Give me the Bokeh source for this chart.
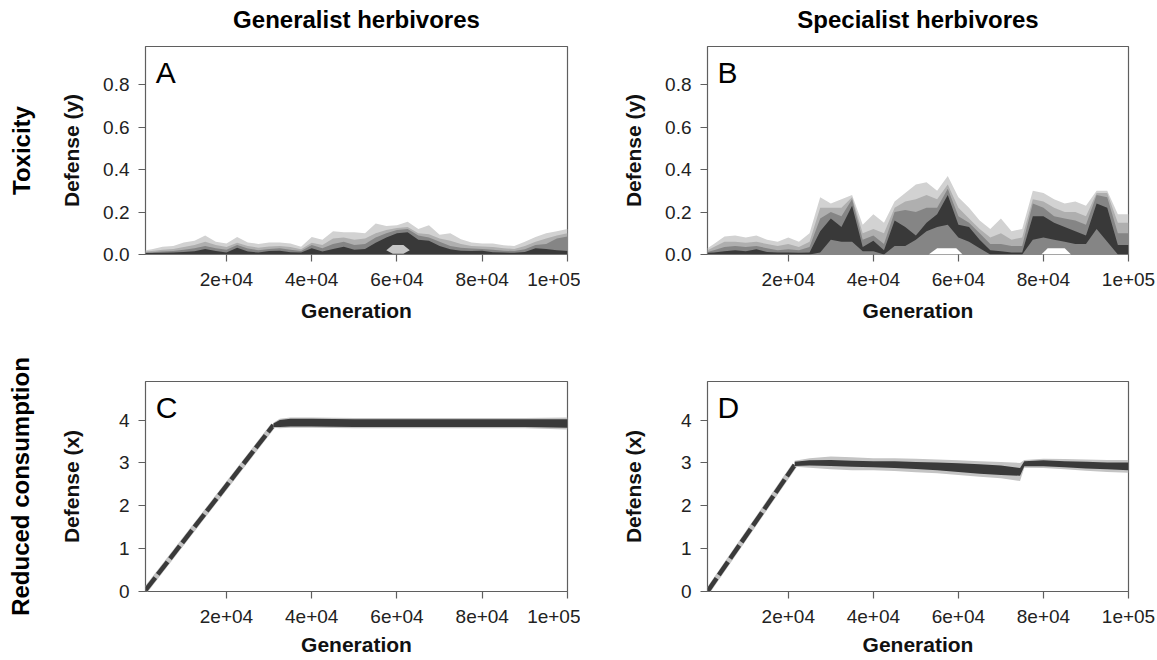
from bokeh.plotting import figure
from bokeh.layouts import column, row
from bokeh.models import Range1d, FixedTicker, Label, Title, NumeralTickFormatter
from bokeh.embed import file_html
from bokeh.resources import INLINE

# ---------------- data ----------------
col_titles = ["Generalist herbivores", "Specialist herbivores"]
row_titles = ["Toxicity", "Reduced consumption"]
panel_letters = ["A", "B", "C", "D"]
y_labels = ["Defense (y)", "Defense (y)", "Defense (x)", "Defense (x)"]

x_tick_values = [20000, 40000, 60000, 80000, 100000]
x_tick_labels = ["2e+04", "4e+04", "6e+04", "8e+04", "1e+05"]
y_ticks_tox = [0.0, 0.2, 0.4, 0.6, 0.8]
y_ticks_con = [0, 1, 2, 3, 4]

gen = [1000, 2500, 5000, 7500, 10000, 12500, 15000, 17500, 20000, 22500,
       25000, 27500, 30000, 32500, 35000, 37500, 40000, 42500, 45000, 47500,
       50000, 52500, 55000, 57500, 60000, 62500, 65000, 67500, 70000, 72500,
       75000, 77500, 80000, 82500, 85000, 87500, 90000, 92500, 95000, 97500,
       100000]

# Panel A: upper edges of the density contour levels (light -> dark)
A_L1 = [0.02, 0.025, 0.036, 0.04, 0.056, 0.065, 0.089, 0.06, 0.052, 0.082,
        0.056, 0.05, 0.056, 0.056, 0.052, 0.036, 0.082, 0.069, 0.11, 0.105,
        0.105, 0.1, 0.146, 0.134, 0.138, 0.154, 0.12, 0.138, 0.093, 0.1,
        0.072, 0.056, 0.052, 0.052, 0.044, 0.04, 0.06, 0.082, 0.1, 0.11, 0.12]
A_L2 = [0.014, 0.016, 0.022, 0.026, 0.035, 0.045, 0.06, 0.045, 0.035, 0.055,
        0.04, 0.032, 0.038, 0.04, 0.035, 0.025, 0.055, 0.045, 0.075, 0.08,
        0.07, 0.075, 0.1, 0.115, 0.125, 0.13, 0.1, 0.095, 0.075, 0.065,
        0.05, 0.04, 0.038, 0.035, 0.03, 0.026, 0.04, 0.06, 0.075, 0.09, 0.1]
A_L3 = [0.01, 0.011, 0.014, 0.016, 0.022, 0.03, 0.04, 0.03, 0.022, 0.045,
        0.028, 0.02, 0.026, 0.03, 0.022, 0.016, 0.045, 0.03, 0.05, 0.06,
        0.045, 0.05, 0.08, 0.1, 0.115, 0.12, 0.09, 0.08, 0.06, 0.04,
        0.032, 0.028, 0.026, 0.022, 0.018, 0.016, 0.025, 0.045, 0.05, 0.075, 0.085]
A_L4 = [0.007, 0.007, 0.008, 0.009, 0.012, 0.015, 0.026, 0.016, 0.01, 0.032,
        0.014, 0.009, 0.016, 0.018, 0.011, 0.009, 0.03, 0.014, 0.026, 0.036,
        0.022, 0.026, 0.055, 0.08, 0.1, 0.105, 0.07, 0.065, 0.04, 0.025,
        0.018, 0.016, 0.018, 0.011, 0.009, 0.008, 0.012, 0.03, 0.026, 0.02, 0.016]
A_hole_gen = [57500, 59000, 61500, 63000]
A_hole_lo = [0.02, 0.004, 0.004, 0.02]
A_hole_hi = [0.02, 0.045, 0.045, 0.02]

# Panel B
B_L1 = [0.03, 0.05, 0.085, 0.09, 0.08, 0.09, 0.07, 0.06, 0.08, 0.06,
        0.1, 0.27, 0.24, 0.26, 0.28, 0.14, 0.19, 0.15, 0.25, 0.29,
        0.33, 0.34, 0.3, 0.37, 0.27, 0.22, 0.16, 0.12, 0.17, 0.11,
        0.12, 0.3, 0.29, 0.26, 0.24, 0.25, 0.23, 0.3, 0.3, 0.19, 0.19]
B_L2 = [0.02, 0.035, 0.06, 0.06, 0.055, 0.06, 0.05, 0.04, 0.05, 0.035,
        0.06, 0.22, 0.22, 0.22, 0.27, 0.1, 0.12, 0.1, 0.22, 0.25,
        0.26, 0.28, 0.26, 0.33, 0.22, 0.17, 0.12, 0.08, 0.1, 0.07,
        0.08, 0.26, 0.25, 0.22, 0.2, 0.2, 0.18, 0.29, 0.29, 0.15, 0.15]
B_L3 = [0.012, 0.02, 0.035, 0.04, 0.035, 0.04, 0.03, 0.02, 0.025, 0.02,
        0.035, 0.17, 0.2, 0.18, 0.26, 0.07, 0.09, 0.05, 0.2, 0.21,
        0.2, 0.22, 0.22, 0.31, 0.18, 0.15, 0.1, 0.05, 0.05, 0.04,
        0.04, 0.24, 0.22, 0.18, 0.17, 0.16, 0.14, 0.28, 0.27, 0.1, 0.1]
B_L4_lo = [0, 0, 0, 0, 0, 0, 0, 0, 0, 0,
           0, 0.01, 0.07, 0.06, 0.06, 0.015, 0.015, 0, 0.04, 0.04,
           0.07, 0.11, 0.13, 0.14, 0.08, 0.06, 0.03, 0, 0, 0,
           0, 0.07, 0.08, 0.07, 0.06, 0.05, 0.05, 0.12, 0.06, 0, 0]
B_L4_hi = [0.008, 0.01, 0.015, 0.02, 0.015, 0.025, 0.012, 0.01, 0.01, 0.008,
           0.01, 0.11, 0.17, 0.13, 0.23, 0.035, 0.065, 0.02, 0.16, 0.13,
           0.09, 0.15, 0.19, 0.28, 0.14, 0.13, 0.07, 0.02, 0.015, 0.01,
           0.01, 0.18, 0.18, 0.15, 0.13, 0.11, 0.09, 0.24, 0.22, 0.045, 0.045]
B_hole1_gen = [53000, 55000, 59500, 61000]
B_hole1_hi = [0.0, 0.03, 0.03, 0.0]
B_hole2_gen = [79500, 81000, 85000, 86500]
B_hole2_hi = [0.0, 0.03, 0.03, 0.0]

# Panel C (reduced consumption, generalists)
C_ramp_gen = [1000, 31000]
C_ramp_val = [0.03, 3.88]
C_gen = [31000, 32500, 35000, 40000, 50000, 60000, 70000, 80000, 90000, 100000]
C_mid = [3.88, 3.92, 3.94, 3.94, 3.93, 3.93, 3.93, 3.93, 3.93, 3.92]
C_dark_half = [0.04, 0.08, 0.09, 0.09, 0.09, 0.09, 0.09, 0.09, 0.09, 0.1]
C_light_half = [0.06, 0.11, 0.12, 0.12, 0.12, 0.12, 0.12, 0.12, 0.12, 0.14]

# Panel D (reduced consumption, specialists)
D_ramp_gen = [1000, 21500]
D_ramp_val = [0.0, 2.95]
D_gen = [21500, 25000, 30000, 35000, 40000, 45000, 50000, 55000, 60000,
         65000, 70000, 74500, 75500, 80000, 85000, 90000, 95000, 100000]
D_mid = [2.98, 3.0, 3.0, 2.98, 2.97, 2.96, 2.94, 2.92, 2.89,
         2.86, 2.83, 2.79, 2.98, 2.99, 2.97, 2.95, 2.93, 2.92]
D_dark_half = [0.05, 0.06, 0.07, 0.07, 0.07, 0.08, 0.08, 0.09, 0.1,
               0.11, 0.11, 0.09, 0.06, 0.07, 0.07, 0.08, 0.08, 0.09]
D_light_half = [0.07, 0.11, 0.15, 0.15, 0.14, 0.15, 0.16, 0.16, 0.17,
                0.18, 0.19, 0.21, 0.09, 0.11, 0.12, 0.13, 0.14, 0.15]

# ---------------- styling ----------------
FONT = "Liberation Sans"
LEVELS = ["#d2d2d2", "#afafaf", "#858585", "#393939"]
FRAME = "#5f5f5f"
X0, X1 = 1000, 100000
LETTER_TOP = 9          # panel letter em-box top below frame top, px
TOP_GAP = 11            # spacer between frame and column title
LEFT_GAP = 20           # spacer between y axis and row title


def spacer(gap):
    return Title(text=" ", text_font_size="1px", standoff=gap,
                 text_color="#ffffff")


def make_fig(w, h, mbl, mbr, mbt, mbb, ymax, yticks, yfmt, ylabel,
             ylab_standoff, xlab_standoff, letter, title=None, rowtitle=None):
    frame_h = h - mbt - mbb
    p = figure(width=w, height=h, x_range=Range1d(X0, X1),
               y_range=Range1d(0, ymax), output_backend="svg",
               toolbar_location=None, min_border_left=mbl,
               min_border_right=mbr, min_border_top=mbt,
               min_border_bottom=mbb, background_fill_color="white",
               border_fill_color="white", title_location=None)
    p.grid.visible = False
    p.outline_line_color = FRAME
    p.outline_line_width = 1.2

    for ax in (p.xaxis[0], p.yaxis[0]):
        ax.axis_line_color = None
        ax.major_tick_line_color = FRAME
        ax.major_tick_line_width = 1.2
        ax.major_tick_out = 7
        ax.major_tick_in = 0
        ax.minor_tick_line_color = None
        ax.major_label_text_font = FONT
        ax.major_label_text_font_size = "19px"
        ax.major_label_text_color = "#222222"
        ax.axis_label_text_font = FONT
        ax.axis_label_text_font_size = "21px"
        ax.axis_label_text_font_style = "bold"
        ax.axis_label_text_color = "#111111"
        ax.major_label_standoff = 9

    p.xaxis.ticker = FixedTicker(ticks=x_tick_values)
    p.xaxis.major_label_overrides = dict(zip(x_tick_values, x_tick_labels))
    p.xaxis.major_label_standoff = 11
    p.xaxis.axis_label = "Generation"
    p.xaxis.axis_label_standoff = xlab_standoff

    p.yaxis.ticker = FixedTicker(ticks=yticks)
    p.yaxis.formatter = NumeralTickFormatter(format=yfmt)
    p.yaxis.axis_label = ylabel
    p.yaxis.axis_label_standoff = ylab_standoff

    if title is not None:
        p.add_layout(spacer(TOP_GAP), "above")
        p.add_layout(Title(text=title, align="center", text_font=FONT,
                           text_font_size="24px", text_font_style="bold",
                           text_color="#000000", standoff=0), "above")
    if rowtitle is not None:
        p.add_layout(spacer(LEFT_GAP), "left")
        p.add_layout(Title(text=rowtitle, align="center", text_font=FONT,
                           text_font_size="24px", text_font_style="bold",
                           text_color="#000000", standoff=0), "left")

    p.add_layout(Label(x=X0 + 0.024 * (X1 - X0),
                       y=ymax * (1 - LETTER_TOP / frame_h), text=letter,
                       text_font=FONT, text_font_size="30px",
                       text_color="#000000", text_baseline="top"))
    return p


pA = make_fig(580, 330, 145, 13, 46, 76, 0.98, y_ticks_tox, "0.0",
              y_labels[0], 17, 10, panel_letters[0], col_titles[0], row_titles[0])
pB = make_fig(577, 330, 127, 29, 46, 76, 0.98, y_ticks_tox, "0.0",
              y_labels[1], 17, 10, panel_letters[1], col_titles[1])
pC = make_fig(580, 330, 145, 13, 51, 69, 4.9, y_ticks_con, "0",
              y_labels[2], 33, 7, panel_letters[2], None, row_titles[1])
pD = make_fig(577, 330, 127, 29, 51, 69, 4.9, y_ticks_con, "0",
              y_labels[3], 33, 7, panel_letters[3])

# ---- Panel A ----
for hi, colr in zip([A_L1, A_L2, A_L3, A_L4], LEVELS):
    pA.varea(x=gen, y1=0, y2=hi, fill_color=colr)
pA.varea(x=A_hole_gen, y1=A_hole_lo, y2=A_hole_hi, fill_color="#c6c6c6")

# ---- Panel B ----
for hi, colr in zip([B_L1, B_L2, B_L3], LEVELS[:3]):
    pB.varea(x=gen, y1=0, y2=hi, fill_color=colr)
pB.varea(x=gen, y1=B_L4_lo, y2=B_L4_hi, fill_color=LEVELS[3])
pB.varea(x=B_hole1_gen, y1=0, y2=B_hole1_hi, fill_color="#ffffff")
pB.varea(x=B_hole2_gen, y1=0, y2=B_hole2_hi, fill_color="#ffffff")


def consumption(p, rg, rv, g, mid, dh, lh):
    p.line(rg, rv, line_width=5.5, line_color="#c2c2c2")
    p.line(rg, rv, line_width=4.5, line_color="#3a3a3a", line_dash="16 4")
    p.varea(x=g, y1=[m - l for m, l in zip(mid, lh)],
            y2=[m + l for m, l in zip(mid, lh)], fill_color="#c4c4c4")
    p.varea(x=g, y1=[m - d for m, d in zip(mid, dh)],
            y2=[m + d for m, d in zip(mid, dh)], fill_color="#3a3a3a")


consumption(pC, C_ramp_gen, C_ramp_val, C_gen, C_mid, C_dark_half, C_light_half)
consumption(pD, D_ramp_gen, D_ramp_val, D_gen, D_mid, D_dark_half, D_light_half)

layout = column(row(pA, pB), row(pC, pD))
open("out.html", "w").write(file_html(layout, INLINE))
